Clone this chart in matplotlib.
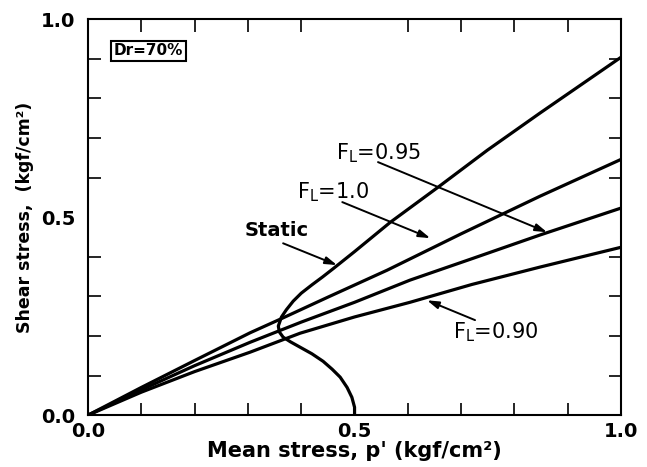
import matplotlib
matplotlib.use("Agg")
import matplotlib.pyplot as plt

# stress paths, p' vs q (kgf/cm2)
static_p = [0.500, 0.500, 0.495, 0.486, 0.473, 0.458, 0.441, 0.420, 0.400, 0.380,
            0.366, 0.359, 0.357, 0.363, 0.372, 0.385, 0.400, 0.420, 0.440, 0.460,
            0.500, 0.567, 0.657, 0.749, 0.848, 1.0]
static_q = [0.0, 0.020, 0.045, 0.070, 0.096, 0.116, 0.136, 0.155, 0.170, 0.185,
            0.197, 0.210, 0.225, 0.248, 0.266, 0.288, 0.308, 0.329, 0.349, 0.370,
            0.413, 0.487, 0.576, 0.669, 0.763, 0.904]

fl100_p = [0.0, 0.1, 0.2, 0.304, 0.36, 0.45, 0.561, 0.7, 0.848, 1.0]
fl100_q = [0.0, 0.070, 0.138, 0.208, 0.242, 0.298, 0.366, 0.458, 0.553, 0.646]

fl095_p = [0.0, 0.1, 0.2, 0.304, 0.4, 0.5, 0.604, 0.72, 0.848, 1.0]
fl095_q = [0.0, 0.064, 0.125, 0.184, 0.235, 0.285, 0.341, 0.395, 0.455, 0.523]

fl090_p = [0.0, 0.1, 0.2, 0.304, 0.398, 0.5, 0.604, 0.72, 0.848, 1.0]
fl090_q = [0.0, 0.058, 0.110, 0.159, 0.207, 0.248, 0.285, 0.330, 0.374, 0.424]

ticks = [0.0, 0.5, 1.0]
tick_labels = ["0.0", "0.5", "1.0"]

# label text, label centre, arrow tail, arrow tip (data coords)
labels = ["Static", "F$_L$=1.0", "F$_L$=0.95", "F$_L$=0.90"]
label_xy = [(0.354, 0.467), (0.460, 0.562), (0.545, 0.661), (0.764, 0.210)]
arrow_from = [(0.366, 0.434), (0.477, 0.538), (0.544, 0.639), (0.726, 0.240)]
arrow_to = [(0.467, 0.379), (0.642, 0.447), (0.861, 0.462), (0.636, 0.290)]

plt.rcParams["font.family"] = ["DejaVu Sans"]
plt.rcParams["mathtext.default"] = "regular"

fig = plt.figure(figsize=(6.47, 4.67), dpi=100)
ax = fig.add_axes([0.136, 0.111, 0.824, 0.848])

for p, q in [(static_p, static_q), (fl100_p, fl100_q), (fl095_p, fl095_q), (fl090_p, fl090_q)]:
    ax.plot(p, q, color="black", lw=2.3, solid_capstyle="round", solid_joinstyle="round")

ax.set_xlim(0, 1)
ax.set_ylim(0, 1)
ax.set_xticks(ticks)
ax.set_xticklabels(tick_labels)
ax.set_yticks(ticks)
ax.set_yticklabels(tick_labels)
ax.set_xticks([i / 10 for i in range(11)], minor=True)
ax.set_yticks([i / 10 for i in range(11)], minor=True)
ax.tick_params(which="both", direction="in", top=True, right=True, width=1.2)
ax.tick_params(which="major", length=0, labelsize=14)
ax.tick_params(axis="x", which="major", pad=5)
ax.tick_params(axis="y", which="major", pad=9)
ax.tick_params(which="minor", length=9)
for lab in ax.get_xticklabels() + ax.get_yticklabels():
    lab.set_fontweight("bold")
for s in ax.spines.values():
    s.set_linewidth(1.5)

ax.set_xlabel("Mean stress, p' (kgf/cm\u00b2)", fontsize=15, fontweight="bold", labelpad=0)
ax.set_ylabel("Shear stress,  (kgf/cm\u00b2)", fontsize=12.5, fontweight="bold", labelpad=5)

ax.text(0.1135, 0.920, "Dr=70%", transform=ax.transAxes, fontsize=11, fontweight="bold",
        ha="center", va="center",
        bbox=dict(boxstyle="square,pad=0.18", fc="white", ec="black", lw=1.5))

arrow = dict(arrowstyle="-|>,head_length=0.7,head_width=0.22", color="black", lw=1.4,
             shrinkA=0, shrinkB=0)
for i, txt in enumerate(labels):
    weight = "bold" if i == 0 else "normal"
    size = 14 if i == 0 else 15
    ax.text(*label_xy[i], txt, fontsize=size, fontweight=weight, ha="center", va="center")
    ax.annotate("", xy=arrow_to[i], xytext=arrow_from[i], arrowprops=arrow)

fig.savefig("out.png", dpi=100)
